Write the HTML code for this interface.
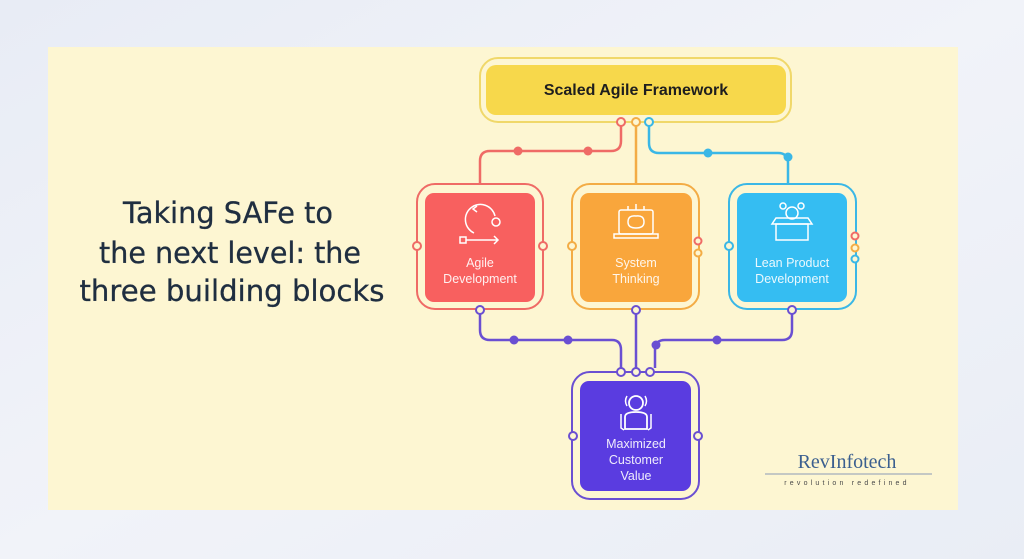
<!DOCTYPE html>
<html><head><meta charset="utf-8"><style>
html,body{margin:0;padding:0;width:1024px;height:559px;overflow:hidden;background:#edf0f7;}
svg{display:block}
</style></head><body>
<svg width="1024" height="559" viewBox="0 0 1024 559" xmlns="http://www.w3.org/2000/svg">
<defs>
<linearGradient id="bg" x1="0" y1="0" x2="1" y2="1">
<stop offset="0" stop-color="#e8ecf5"/><stop offset="0.5" stop-color="#f1f3f9"/><stop offset="1" stop-color="#e9edf5"/></linearGradient>
</defs>
<rect width="1024" height="559" fill="url(#bg)"/>
<rect x="48" y="47" width="910" height="463" fill="#fdf6d2"/>
<g font-family="'DejaVu Sans','Liberation Sans',sans-serif" fill="#1f2e40" font-size="29" text-anchor="middle" stroke="#1f2e40" stroke-width="0.3">
<text x="228" y="223" textLength="210" lengthAdjust="spacingAndGlyphs">Taking SAFe to</text>
<text x="230" y="263" textLength="262" lengthAdjust="spacingAndGlyphs">the next level: the</text>
<text x="232" y="301" textLength="305" lengthAdjust="spacingAndGlyphs">three building blocks</text>
</g>
<!-- top box -->
<rect x="480" y="58" width="311" height="64" rx="18" fill="none" stroke="#f0d86a" stroke-width="2"/>
<rect x="486" y="65" width="300" height="50" rx="10" fill="#f7d84b"/>
<text x="636" y="95" text-anchor="middle" font-family="'Liberation Sans',sans-serif" font-weight="bold" font-size="16" fill="#1e1e1e">Scaled Agile Framework</text>
<!-- top connectors -->
<g fill="none" stroke-width="2.5">
<path d="M621 126 V141 Q621 151 611 151 H490 Q480 151 480 161 V184" stroke="#ef6b66"/>
<path d="M636 126 V184" stroke="#f3ac45"/>
<path d="M649 126 V143 Q649 153 659 153 H778 Q788 153 788 163 V184" stroke="#3ab7e6"/>
</g>
<g stroke-width="2" fill="#fdf6d2">
<circle cx="621" cy="122" r="4" stroke="#ef6b66"/>
<circle cx="636" cy="122" r="4" stroke="#f3ac45"/>
<circle cx="649" cy="122" r="4" stroke="#3ab7e6"/>
</g>
<circle cx="518" cy="151" r="4.5" fill="#ef6b66"/><circle cx="588" cy="151" r="4.5" fill="#ef6b66"/>
<circle cx="708" cy="153" r="4.5" fill="#3ab7e6"/><circle cx="788" cy="157" r="4.5" fill="#3ab7e6"/>
<!-- blocks -->
<g fill="none" stroke-width="2">
<rect x="417" y="184" width="126" height="125" rx="18" stroke="#ef6b66"/>
<rect x="572" y="184" width="127" height="125" rx="18" stroke="#f3ac45"/>
<rect x="729" y="184" width="127" height="125" rx="18" stroke="#3ab7e6"/>
<rect x="572" y="372" width="127" height="127" rx="18" stroke="#6a4fd2"/>
</g>
<rect x="425" y="193" width="110" height="109" rx="9" fill="#f8605f"/>
<rect x="580" y="193" width="112" height="109" rx="9" fill="#f9a63c"/>
<rect x="737" y="193" width="110" height="109" rx="9" fill="#35bdf2"/>
<rect x="580" y="381" width="111" height="110" rx="9" fill="#5a3ce0"/>
<g font-family="'Liberation Sans',sans-serif" font-size="12.5" fill="#fff" fill-opacity="0.9" text-anchor="middle">
<text x="480" y="267">Agile</text><text x="480" y="283">Development</text>
<text x="636" y="267">System</text><text x="636" y="283">Thinking</text>
<text x="792" y="267">Lean Product</text><text x="792" y="283">Development</text>
<text x="636" y="448">Maximized</text><text x="636" y="464">Customer</text><text x="636" y="480">Value</text>
</g>
<!-- icons -->
<g fill="none" stroke="#fff" stroke-width="1.5">
<path d="M474 233 A15 15 0 1 1 495 216"/><path d="M477 212 l-4 -3 4 -3"/>
<rect x="460" y="237" width="6" height="6"/><path d="M466 240 H498 M494 236 l4 4 -4 4"/>
<circle cx="496" cy="222" r="4"/>
<rect x="619" y="210" width="34" height="24" rx="2"/><path d="M614 234 H658 v4 H614 z"/>
<path d="M628 222 q0 -7 8 -6 q8 -1 8 6 q0 6 -8 6 q-8 0 -8 -6"/>
<path d="M628 210 v-4 M636 210 v-6 M644 210 v-4"/>
<rect x="776" y="224" width="32" height="16"/><path d="M772 224 h40 l-4 -6 h-32 z"/>
<circle cx="792" cy="213" r="6"/><circle cx="783" cy="206" r="3"/><circle cx="801" cy="206" r="3"/>
<circle cx="636" cy="403" r="7" stroke-width="1.8"/>
<path d="M625 429 v-12 q0 -5 11 -5 q11 0 11 5 v12 z" stroke-width="1.8"/>
<path d="M627 396 q-3 5 0 10 M645 396 q3 5 0 10 M621 414 v14 l3 2 M651 414 v14 l-3 2"/>
</g>
<!-- side dots -->
<g stroke-width="2" fill="#fdf6d2">
<circle cx="417" cy="246" r="4" stroke="#ef6b66"/>
<circle cx="543" cy="246" r="4" stroke="#ef6b66"/>
<circle cx="572" cy="246" r="4" stroke="#f3ac45"/>
<circle cx="698" cy="241" r="3.5" stroke="#ef6b66"/>
<circle cx="698" cy="253" r="3.5" stroke="#f3ac45"/>
<circle cx="729" cy="246" r="4" stroke="#3ab7e6"/>
<circle cx="855" cy="236" r="3.5" stroke="#ef6b66"/>
<circle cx="855" cy="248" r="3.5" stroke="#f3ac45"/>
<circle cx="855" cy="259" r="3.5" stroke="#3ab7e6"/>
<circle cx="573" cy="436" r="4" stroke="#6a4fd2"/>
<circle cx="698" cy="436" r="4" stroke="#6a4fd2"/>
</g>
<!-- bottom connectors -->
<g fill="none" stroke="#6a4fd2" stroke-width="2.5">
<path d="M480 314 V330 Q480 340 490 340 H612 Q621 340 621 350 V368"/>
<path d="M636 314 V368"/>
<path d="M792 314 V330 Q792 340 782 340 H665 Q655 340 655 350 V368"/>
</g>
<g stroke="#6a4fd2" stroke-width="2" fill="#fdf6d2">
<circle cx="480" cy="310" r="4"/><circle cx="636" cy="310" r="4"/><circle cx="792" cy="310" r="4"/>
<circle cx="621" cy="372" r="4"/><circle cx="636" cy="372" r="4"/><circle cx="650" cy="372" r="4"/>
</g>
<g fill="#6a4fd2"><circle cx="514" cy="340" r="4.5"/><circle cx="568" cy="340" r="4.5"/><circle cx="717" cy="340" r="4.5"/><circle cx="656" cy="345" r="4.5"/></g>
<!-- logo -->
<text x="847" y="468" text-anchor="middle" font-family="'Liberation Serif',serif" font-size="20" fill="#3b5f8f">RevInfotech</text>
<line x1="765" y1="474" x2="932" y2="474" stroke="#8a9ab5" stroke-width="1"/>
<text x="847" y="485" text-anchor="middle" font-family="'Liberation Sans',sans-serif" font-size="7" fill="#4a4a4a" letter-spacing="3.2">revolution  redefined</text>
</svg>
</body></html>
